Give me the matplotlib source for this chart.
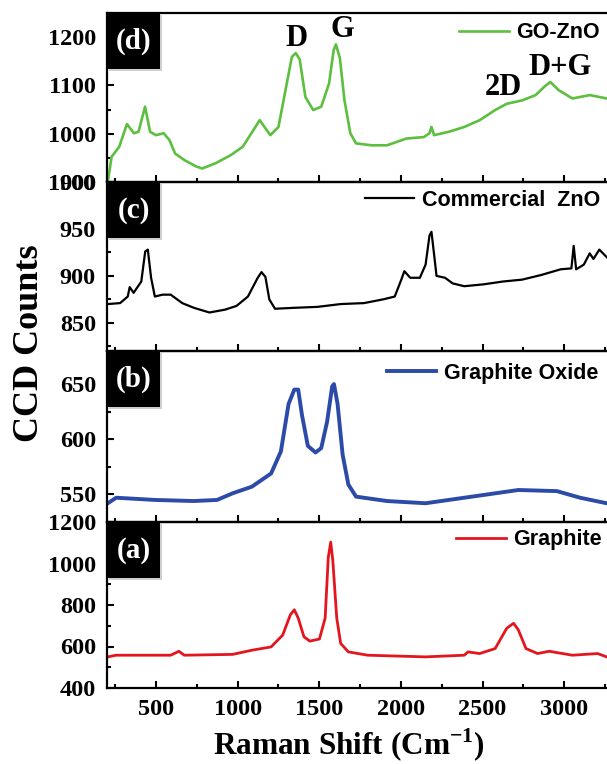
import numpy as np
import matplotlib
matplotlib.use('Agg')
import matplotlib.pyplot as plt
from matplotlib.patches import Rectangle
from matplotlib.ticker import MultipleLocator

plt.rcParams['mathtext.fontset'] = 'custom'
plt.rcParams['mathtext.rm'] = 'Liberation Serif'
plt.rcParams['mathtext.bf'] = 'Liberation Serif:bold'

# (d) GO-ZnO
go_zno_x = [205, 228, 275, 322, 365, 393, 433, 464, 500, 547, 582, 617, 676, 747, 783, 866,
            960, 1031, 1090, 1135, 1200, 1250, 1297, 1332, 1356, 1380, 1415, 1463, 1512, 1560,
            1588, 1602, 1626, 1654, 1690, 1725, 1820, 1915, 2033, 2140, 2175, 2187, 2203, 2293,
            2388, 2482, 2577, 2648, 2742, 2825, 2884, 2915, 2967, 3050, 3157, 3260]
go_zno_y = [900, 952, 973, 1020, 1001, 1004, 1056, 1004, 997, 1001, 987, 959, 945, 932, 928, 939,
            956, 973, 1004, 1028, 997, 1014, 1097, 1159, 1167, 1154, 1076, 1049, 1056, 1104,
            1173, 1185, 1157, 1070, 1001, 980, 976, 976, 990, 993, 1001, 1014, 997, 1004,
            1014, 1028, 1049, 1062, 1069, 1080, 1099, 1107, 1090, 1073, 1080, 1073]

# (c) Commercial ZnO
zno_x = [205, 280, 327, 339, 363, 410, 434, 450, 470, 493, 540, 590, 661, 732, 827, 922,
         993, 1063, 1123, 1146, 1170, 1194, 1229, 1347, 1489, 1631, 1773, 1891, 1962, 1998,
         2021, 2057, 2116, 2151, 2175, 2187, 2199, 2218, 2270, 2317, 2388, 2506, 2624, 2742,
         2860, 2978, 3044, 3058, 3073, 3120, 3156, 3179, 3215, 3260]
zno_y = [870, 871, 878, 888, 882, 894, 926, 928, 898, 878, 880, 880, 871, 866, 861, 864,
         868, 878, 898, 904, 899, 875, 865, 866, 867, 870, 871, 875, 878, 894,
         905, 898, 898, 912, 943, 947, 929, 900, 898, 892, 889, 891, 894, 896,
         901, 907, 908, 932, 907, 912, 924, 918, 928, 920]

# (b) Graphite Oxide
gox_x = [205, 256, 493, 732, 874, 969, 1087, 1205, 1265, 1312, 1347, 1371, 1394, 1430, 1477,
         1512, 1548, 1579, 1590, 1612, 1643, 1678, 1725, 1915, 2151, 2388, 2530, 2719, 2955,
         3097, 3260]
gox_y = [542, 547, 545, 544, 545, 551, 557, 569, 589, 632, 645, 645, 622, 594, 588,
         592, 616, 648, 650, 632, 586, 559, 548, 544, 542, 547, 550, 554, 553,
         547, 542]

# (a) Graphite
gr_x = [205, 256, 590, 640, 673, 969, 1087, 1205, 1276, 1323, 1347, 1371, 1406, 1442, 1501,
        1536, 1555, 1570, 1583, 1607, 1631, 1678, 1797, 2151, 2388, 2411, 2482, 2577, 2648,
        2690, 2719, 2766, 2837, 2908, 3050, 3204, 3260]
gr_y = [550, 558, 558, 577, 558, 562, 582, 598, 655, 753, 777, 737, 647, 626, 636,
        737, 1029, 1103, 1013, 737, 615, 574, 558, 550, 558, 574, 566, 590, 688,
        712, 680, 590, 566, 577, 558, 566, 550]

panels = [
    dict(x=go_zno_x, y=go_zno_y, color='#5cbf3f', lw=1.9, label='GO-ZnO', tag='(d)',
         ylim=(900, 1250), major=100, minor=50, leg=(600, 33)),
    dict(x=zno_x, y=zno_y, color='black', lw=1.6, label='Commercial  ZnO', tag='(c)',
         ylim=(820, 1000), major=50, minor=25, leg=(600, 200)),
    dict(x=gox_x, y=gox_y, color='#2c4aa8', lw=2.8, label='Graphite Oxide', tag='(b)',
         ylim=(525, 680), major=50, minor=25, leg=(598, 373)),
    dict(x=gr_x, y=gr_y, color='#e3161e', lw=2.0, label='Graphite', tag='(a)',
         ylim=(400, 1200), major=200, minor=100, leg=(602, 540)),
]
# panel top/bottom in pixels
edges = [(13, 182), (182, 351), (351, 522), (522, 688)]

W, H = 607, 764
fig = plt.figure(figsize=(W / 100, H / 100), dpi=100)
left = 107 / W
axes = []
for p, (t, b) in zip(panels, edges):
    ax = fig.add_axes([left, 1 - b / H, 1 - left, (b - t) / H])
    ax.plot(p['x'], p['y'], color=p['color'], lw=p['lw'], label=p['label'])
    ax.set_xlim(200, 3262)
    ax.set_ylim(*p['ylim'])
    ax.xaxis.set_major_locator(MultipleLocator(500))
    ax.xaxis.set_minor_locator(MultipleLocator(250))
    ax.yaxis.set_major_locator(MultipleLocator(p['major']))
    ax.yaxis.set_minor_locator(MultipleLocator(p['minor']))
    ax.tick_params(which='both', direction='in', width=1.5, top=False, right=False)
    ax.tick_params(which='major', length=5)
    ax.tick_params(which='minor', length=3)
    ax.tick_params(axis='y', pad=8)
    ax.tick_params(axis='x', pad=8)
    ax.spines['right'].set_visible(False)
    for s in ['left', 'bottom', 'top']:
        ax.spines[s].set_linewidth(1.6)
    for lab in ax.get_yticklabels() + ax.get_xticklabels():
        lab.set_fontfamily('Liberation Serif')
        lab.set_fontweight('bold')
        lab.set_fontsize(17.5)
    ax.set_facecolor('none')
    lx, ly = p['leg']
    ax.legend(loc='center right', bbox_to_anchor=(lx / W, 1 - ly / H),
              bbox_transform=fig.transFigure, frameon=False, borderpad=0,
              borderaxespad=0, handlelength=2.3, handletextpad=0.35,
              prop={'family': 'Liberation Sans', 'weight': 'bold', 'size': 15.5})
    # tag box
    bw, bh = 53, 56
    fig.patches.append(Rectangle((left + 2 / W, 1 - (t + bh + 2) / H), bw / W, bh / H,
                                 transform=fig.transFigure, facecolor='#b0b0b0',
                                 edgecolor='none', alpha=0.6, zorder=5))
    fig.patches.append(Rectangle((left, 1 - (t + bh) / H), bw / W, bh / H,
                                 transform=fig.transFigure, facecolor='black',
                                 edgecolor='none', zorder=6))
    fig.text(left + bw / 2 / W, 1 - (t + bh / 2) / H, p['tag'], color='white',
             family='Liberation Serif', weight='bold', fontsize=21,
             ha='center', va='center', zorder=7)
    axes.append(ax)

for ax in axes[:-1]:
    ax.tick_params(labelbottom=False)

# peak labels on (d)
for txt, x, y in [('D', 1359, 1198), ('G', 1639, 1216), ('2D', 2627, 1096), ('D+G', 2974, 1138)]:
    axes[0].text(x, y, txt, family='Liberation Serif', weight='bold', fontsize=22,
                 ha='center', va='center')

fig.text(349 / W, 1 - 745 / H, r'Raman Shift (Cm$^{\mathbf{-1}}$)', family='Liberation Serif',
         weight='bold', fontsize=22.5, ha='center', va='center')
fig.text(30 / W, 1 - 343 / H, 'CCD Counts', rotation=90, family='Liberation Serif',
         weight='bold', fontsize=26, ha='center', va='center')

fig.savefig('out.png', dpi=100)
